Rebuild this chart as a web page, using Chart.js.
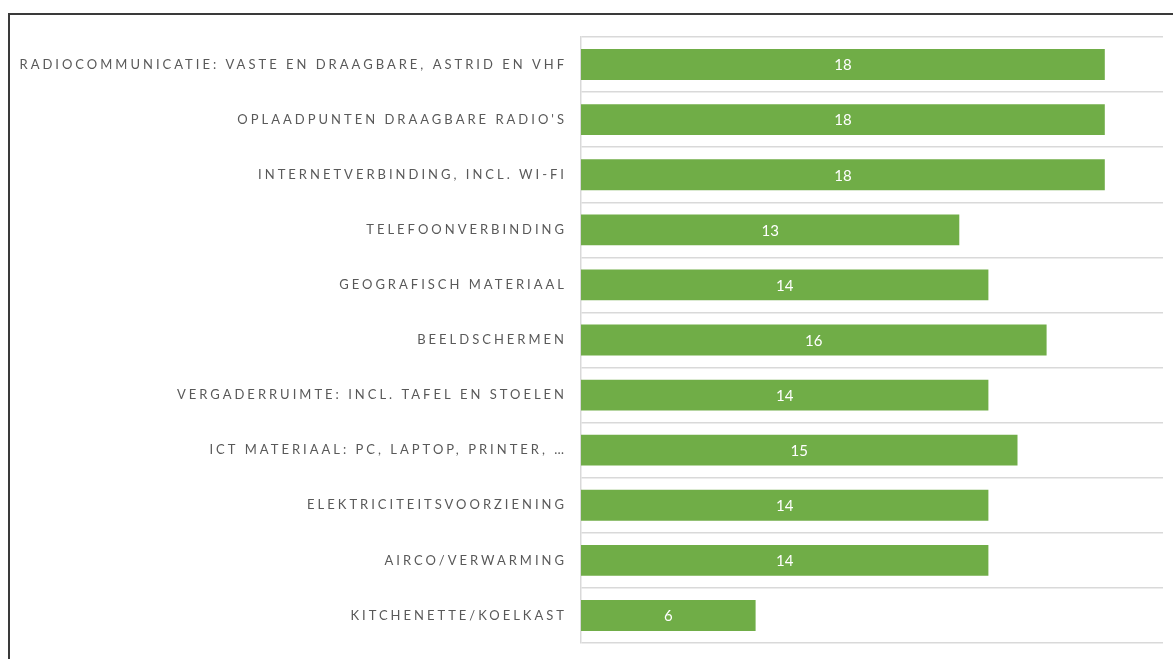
<!DOCTYPE html>
<html>
<head>
<meta charset="utf-8">
<script src="https://cdn.jsdelivr.net/npm/chart.js@4/dist/chart.umd.min.js"></script>
<style>
  html, body { margin: 0; padding: 0; background: #fff; }
  #wrap { position: relative; width: 1173px; height: 659px; overflow: hidden; }
  #frame { position: absolute; left: 8px; top: 13px; width: 1200px; height: 700px;
           border-top: 2px solid #3a3a3a; border-left: 2px solid #3a3a3a; box-sizing: border-box; }
  canvas { position: absolute; left: 0; top: 0; }
</style>
</head>
<body>
<div id="wrap">
  <div id="frame"></div>
  <canvas id="c" width="1173" height="659"></canvas>
</div>
<script>
const categories = [
  "RADIOCOMMUNICATIE: VASTE EN DRAAGBARE, ASTRID EN VHF",
  "OPLAADPUNTEN DRAAGBARE RADIO'S",
  "INTERNETVERBINDING, INCL. WI-FI",
  "TELEFOONVERBINDING",
  "GEOGRAFISCH MATERIAAL",
  "BEELDSCHERMEN",
  "VERGADERRUIMTE: INCL. TAFEL EN STOELEN",
  "ICT MATERIAAL: PC, LAPTOP, PRINTER, \u2026",
  "ELEKTRICITEITSVOORZIENING",
  "AIRCO/VERWARMING",
  "KITCHENETTE/KOELKAST"
];
const values = [18, 18, 18, 13, 14, 16, 14, 15, 14, 14, 6];
const axisMax = 20;

const spacingPlugin = {
  id: 'spacing',
  beforeDraw(chart) { chart.ctx.letterSpacing = '3px'; },
  afterDatasetsDraw(chart) {
    const ctx = chart.ctx;
    const meta = chart.getDatasetMeta(0);
    ctx.save();
    ctx.letterSpacing = '0px';
    ctx.fillStyle = '#ffffff';
    ctx.font = '15px Lato, "Open Sans", sans-serif';
    ctx.textAlign = 'center';
    ctx.textBaseline = 'middle';
    meta.data.forEach((el, i) => {
      const cx = (el.x + el.base) / 2;
      ctx.fillText(String(values[i]), cx, el.y + 1);
    });
    ctx.restore();
  }
};

new Chart(document.getElementById('c'), {
  type: 'bar',
  data: {
    labels: categories,
    datasets: [{
      data: values,
      backgroundColor: '#70AD47',
      borderWidth: 0,
      barPercentage: 0.56,
      categoryPercentage: 1.0
    }]
  },
  options: {
    indexAxis: 'y',
    responsive: false,
    animation: false,
    devicePixelRatio: 1,
    layout: { padding: { left: 0, top: 37, right: 10, bottom: 16 } },
    plugins: { legend: { display: false }, tooltip: { enabled: false } },
    scales: {
      x: {
        display: false,
        min: 0,
        max: axisMax
      },
      y: {
        afterFit(scale) { scale.width = 581; scale.paddingTop = 0; scale.paddingBottom = 0; },
        grid: { color: '#d9d9d9', lineWidth: 1.5, drawTicks: false, offset: true },
        border: { color: '#d9d9d9', width: 1.5 },
        ticks: {
          color: '#595959',
          padding: 14,
          font: { family: 'Lato, "Open Sans", sans-serif', size: 13 }
        }
      }
    }
  },
  plugins: [spacingPlugin]
});
</script>
</body>
</html>
